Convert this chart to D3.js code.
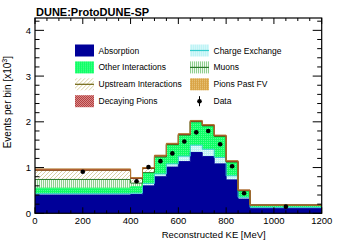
<!DOCTYPE html>
<html>
<head>
<meta charset="utf-8">
<script src="https://cdn.jsdelivr.net/npm/d3@7/dist/d3.min.js"></script>
<style>
  body { margin: 0; background: #fff; }
  text { font-family: "Liberation Sans", Arial, sans-serif; fill: #000; }
</style>
</head>
<body>
<svg id="chart"></svg>
<script>
// bin edges in reconstructed KE [MeV]
var binEdges = [0, 400, 450, 500, 550, 600, 650, 700, 750, 800, 850, 900, 1200];

// stacked MC components, events per bin [x10^3]
var absorption     = [0.40, 0.41, 0.60, 0.80, 1.01, 1.13, 1.33, 1.24, 1.08, 0.73, 0.31, 0.11];
var chargeExchange = [0.03, 0.03, 0.05, 0.06, 0.07, 0.12, 0.16, 0.16, 0.14, 0.09, 0.04, 0.02];
var otherInter     = [0.12, 0.14, 0.22, 0.36, 0.42, 0.46, 0.51, 0.51, 0.46, 0.30, 0.14, 0.05];
var muons          = [0.19, 0.08, 0.02, 0.01, 0.00, 0.00, 0.00, 0.00, 0.00, 0.00, 0.00, 0.00];
var upstream       = [0.20, 0.10, 0.09, 0.02, 0.01, 0.01, 0.01, 0.01, 0.01, 0.01, 0.01, 0.00];
var decayingPions  = [0.01, 0.01, 0.01, 0.01, 0.01, 0.01, 0.01, 0.01, 0.01, 0.01, 0.005, 0.00];
var pionsPastFV    = [0.02, 0.01, 0.01, 0.01, 0.01, 0.01, 0.01, 0.01, 0.01, 0.01, 0.005, 0.00];

// data points
var dataX = [200, 425, 475, 525, 575, 625, 675, 725, 775, 825, 875, 1050];
var dataY = [0.91, 0.70, 1.01, 1.14, 1.31, 1.57, 1.77, 1.80, 1.51, 1.03, 0.44, 0.145];

var xTicks = [0, 200, 400, 600, 800, 1000, 1200];
var yTicks = [0, 1, 2, 3, 4];

var screen = { width: 357, height: 244 };
var margins = { top: 18, bottom: 30.7, left: 35, right: 35.3 };
var graphWidth = screen.width - margins.left - margins.right;
var graphHeight = screen.height - margins.top - margins.bottom;

var xScale = d3.scaleLinear().domain([0, 1200]).range([0, graphWidth]);
var yScale = d3.scaleLinear().domain([0, 4.27]).range([graphHeight, 0]);

var svg = d3.select("#chart").attr("width", screen.width).attr("height", screen.height);
var defs = svg.append("defs");

// fill patterns
function pattern(id, w, h, draw) {
  var p = defs.append("pattern").attr("id", id).attr("patternUnits", "userSpaceOnUse")
    .attr("width", w).attr("height", h);
  draw(p);
}
pattern("pOther", 2, 2, function(p) {
  p.append("rect").attr("width", 2).attr("height", 2).attr("fill", "#10ff66");
  p.append("rect").attr("width", 1).attr("height", 1).attr("fill", "#55ff95");
});
pattern("pCex", 2, 2, function(p) {
  p.append("rect").attr("width", 2).attr("height", 2).attr("fill", "#bff3f5");
  p.append("rect").attr("width", 1).attr("height", 1).attr("fill", "#e8fbfc");
});
pattern("pMuon", 2, 2, function(p) {
  p.append("rect").attr("width", 2).attr("height", 2).attr("fill", "#f2faf2");
  p.append("rect").attr("width", 1).attr("height", 2).attr("fill", "#8fcf8f");
});
pattern("pUp", 4, 4, function(p) {
  p.append("rect").attr("width", 4).attr("height", 4).attr("fill", "#ffffff");
  p.append("path").attr("d", "M0,4 L4,0 M-1,1 L1,-1 M3,5 L5,3").attr("stroke", "#cfc48a").attr("stroke-width", 0.8);
});
pattern("pDecay", 2, 2, function(p) {
  p.append("rect").attr("width", 2).attr("height", 2).attr("fill", "#e4a0a0");
  p.append("rect").attr("width", 1).attr("height", 1).attr("fill", "#a82828");
  p.append("rect").attr("x", 1).attr("y", 1).attr("width", 1).attr("height", 1).attr("fill", "#a82828");
});
pattern("pFV", 2, 2, function(p) {
  p.append("rect").attr("width", 2).attr("height", 2).attr("fill", "#d9a446");
  p.append("rect").attr("width", 1).attr("height", 1).attr("fill", "#eccb86");
});

var components = [
  { name: "Absorption", values: absorption, fill: "#000099", line: "#000099" },
  { name: "Charge Exchange", values: chargeExchange, fill: "url(#pCex)", line: "#33cccc" },
  { name: "Other Interactions", values: otherInter, fill: "url(#pOther)", line: "#10ff66" },
  { name: "Muons", values: muons, fill: "url(#pMuon)", line: "#2a7a2a" },
  { name: "Upstream Interactions", values: upstream, fill: "url(#pUp)", line: "#6f6410" },
  { name: "Decaying Pions", values: decayingPions, fill: "url(#pDecay)", line: "#a82828" },
  { name: "Pions Past FV", values: pionsPastFV, fill: "url(#pFV)", line: "#b07a30" }
];

// cumulative stacking
var running = binEdges.slice(0, -1).map(function() { return 0; });
components.forEach(function(c) {
  c.pts = binEdges.map(function(e, i) {
    var k = Math.min(i, c.values.length - 1);
    return { x: e, lo: running[k], hi: running[k] + c.values[k] };
  });
  c.values.forEach(function(v, i) { running[i] += v; });
});

var plotLand = svg.append("g")
  .attr("transform", "translate(" + margins.left + "," + margins.top + ")");

var area = d3.area().curve(d3.curveStepAfter)
  .x(function(d) { return xScale(d.x); })
  .y0(function(d) { return yScale(d.lo); })
  .y1(function(d) { return yScale(d.hi); });
var line = d3.line().curve(d3.curveStepAfter)
  .x(function(d) { return xScale(d.x); })
  .y(function(d) { return yScale(d.hi); });

plotLand.selectAll("path.layer").data(components).enter().append("path")
  .attr("class", "layer").attr("d", function(d) { return area(d.pts); })
  .attr("fill", function(d) { return d.fill; });
plotLand.selectAll("path.edge").data(components).enter().append("path")
  .attr("class", "edge").attr("d", function(d) { return line(d.pts); })
  .attr("fill", "none").attr("stroke", function(d) { return d.line; }).attr("stroke-width", 1);

// data points with small error bars
var pts = plotLand.selectAll("g.pt").data(dataX).enter().append("g");
pts.append("line")
  .attr("x1", function(d) { return xScale(d); }).attr("x2", function(d) { return xScale(d); })
  .attr("y1", function(d, i) { return yScale(dataY[i] + 0.03); })
  .attr("y2", function(d, i) { return yScale(dataY[i] - 0.03); })
  .attr("stroke", "#000").attr("stroke-width", 1);
pts.append("circle")
  .attr("cx", function(d) { return xScale(d); })
  .attr("cy", function(d, i) { return yScale(dataY[i]); })
  .attr("r", 2.3).attr("fill", "#000");

// frame and inward ticks
plotLand.append("rect").attr("width", graphWidth).attr("height", graphHeight)
  .attr("fill", "none").attr("stroke", "#000").attr("stroke-width", 1.2);

var xMinor = d3.range(0, 1201, 50);
var yMinor = d3.range(0, 4.27, 0.2);
var tickG = plotLand.append("g").attr("stroke", "#000").attr("stroke-width", 1);
xMinor.forEach(function(v) {
  var len = (v % 200 === 0) ? 6 : 3;
  tickG.append("line").attr("x1", xScale(v)).attr("x2", xScale(v))
    .attr("y1", graphHeight).attr("y2", graphHeight - len);
  tickG.append("line").attr("x1", xScale(v)).attr("x2", xScale(v))
    .attr("y1", 0).attr("y2", len);
});
yMinor.forEach(function(v, i) {
  var len = (i % 5 === 0) ? 9 : 4.5;
  tickG.append("line").attr("x1", 0).attr("x2", len)
    .attr("y1", yScale(v)).attr("y2", yScale(v));
  tickG.append("line").attr("x1", graphWidth).attr("x2", graphWidth - len)
    .attr("y1", yScale(v)).attr("y2", yScale(v));
});

plotLand.selectAll("text.xt").data(xTicks).enter().append("text")
  .attr("x", function(d) { return xScale(d); }).attr("y", graphHeight + 11)
  .attr("text-anchor", "middle").attr("font-size", 9.5).text(function(d) { return d; });
plotLand.selectAll("text.yt").data(yTicks).enter().append("text")
  .attr("x", -4).attr("y", function(d) { return yScale(d) + 3.5; })
  .attr("text-anchor", "end").attr("font-size", 9.5).text(function(d) { return d; });

// axis titles
svg.append("text").attr("x", margins.left + graphWidth - 56).attr("y", 238)
  .attr("text-anchor", "end").attr("font-size", 9.5)
  .text("Reconstructed KE [MeV]");
var yl = svg.append("text").attr("transform", "translate(10.5,56) rotate(-90)")
  .attr("text-anchor", "end").attr("font-size", 10);
yl.append("tspan").text("Events per bin [x10");
yl.append("tspan").attr("font-size", 7).attr("dy", -4).text("3");
yl.append("tspan").attr("dy", 4).text("]");

svg.append("text").attr("x", 36).attr("y", 15.5).attr("font-size", 11)
  .attr("font-weight", "bold").text("DUNE:ProtoDUNE-SP");

// legend
var legendRows = [
  { name: "Absorption", col: 0, row: 0, c: components[0] },
  { name: "Other Interactions", col: 0, row: 1, c: components[2] },
  { name: "Upstream Interactions", col: 0, row: 2, c: components[4], mid: true },
  { name: "Decaying Pions", col: 0, row: 3, c: components[5] },
  { name: "Charge Exchange", col: 1, row: 0, c: components[1], mid: true },
  { name: "Muons", col: 1, row: 1, c: components[3], mid: true },
  { name: "Pions Past FV", col: 1, row: 2, c: components[6] },
  { name: "Data", col: 1, row: 3, data: true }
];
var legend = svg.append("g");
var legendLines = legend.selectAll("g").data(legendRows).enter().append("g")
  .attr("transform", function(d) {
    var x = d.col === 0 ? 75 : 190;
    var y = 50.5 + d.row * 16.9;
    return "translate(" + x + "," + y + ")";
  });
legendLines.filter(function(d) { return !d.data; }).append("rect")
  .attr("x", 0).attr("y", -6).attr("width", 19).attr("height", 12)
  .attr("fill", function(d) { return d.c.fill; });
legendLines.filter(function(d) { return d.mid; }).append("line")
  .attr("x1", 0).attr("x2", 19).attr("y1", 0).attr("y2", 0)
  .attr("stroke", function(d) { return d.c.line; }).attr("stroke-width", 1.2);
var dl = legendLines.filter(function(d) { return d.data; });
dl.append("line").attr("x1", 9.5).attr("x2", 9.5).attr("y1", -5).attr("y2", 5)
  .attr("stroke", "#000").attr("stroke-width", 1);
dl.append("circle").attr("cx", 9.5).attr("cy", 0).attr("r", 2.3).attr("fill", "#000");
legendLines.append("text").attr("x", 23.5).attr("y", 3)
  .attr("font-size", 8.5).text(function(d) { return d.name; });
</script>
</body>
</html>
